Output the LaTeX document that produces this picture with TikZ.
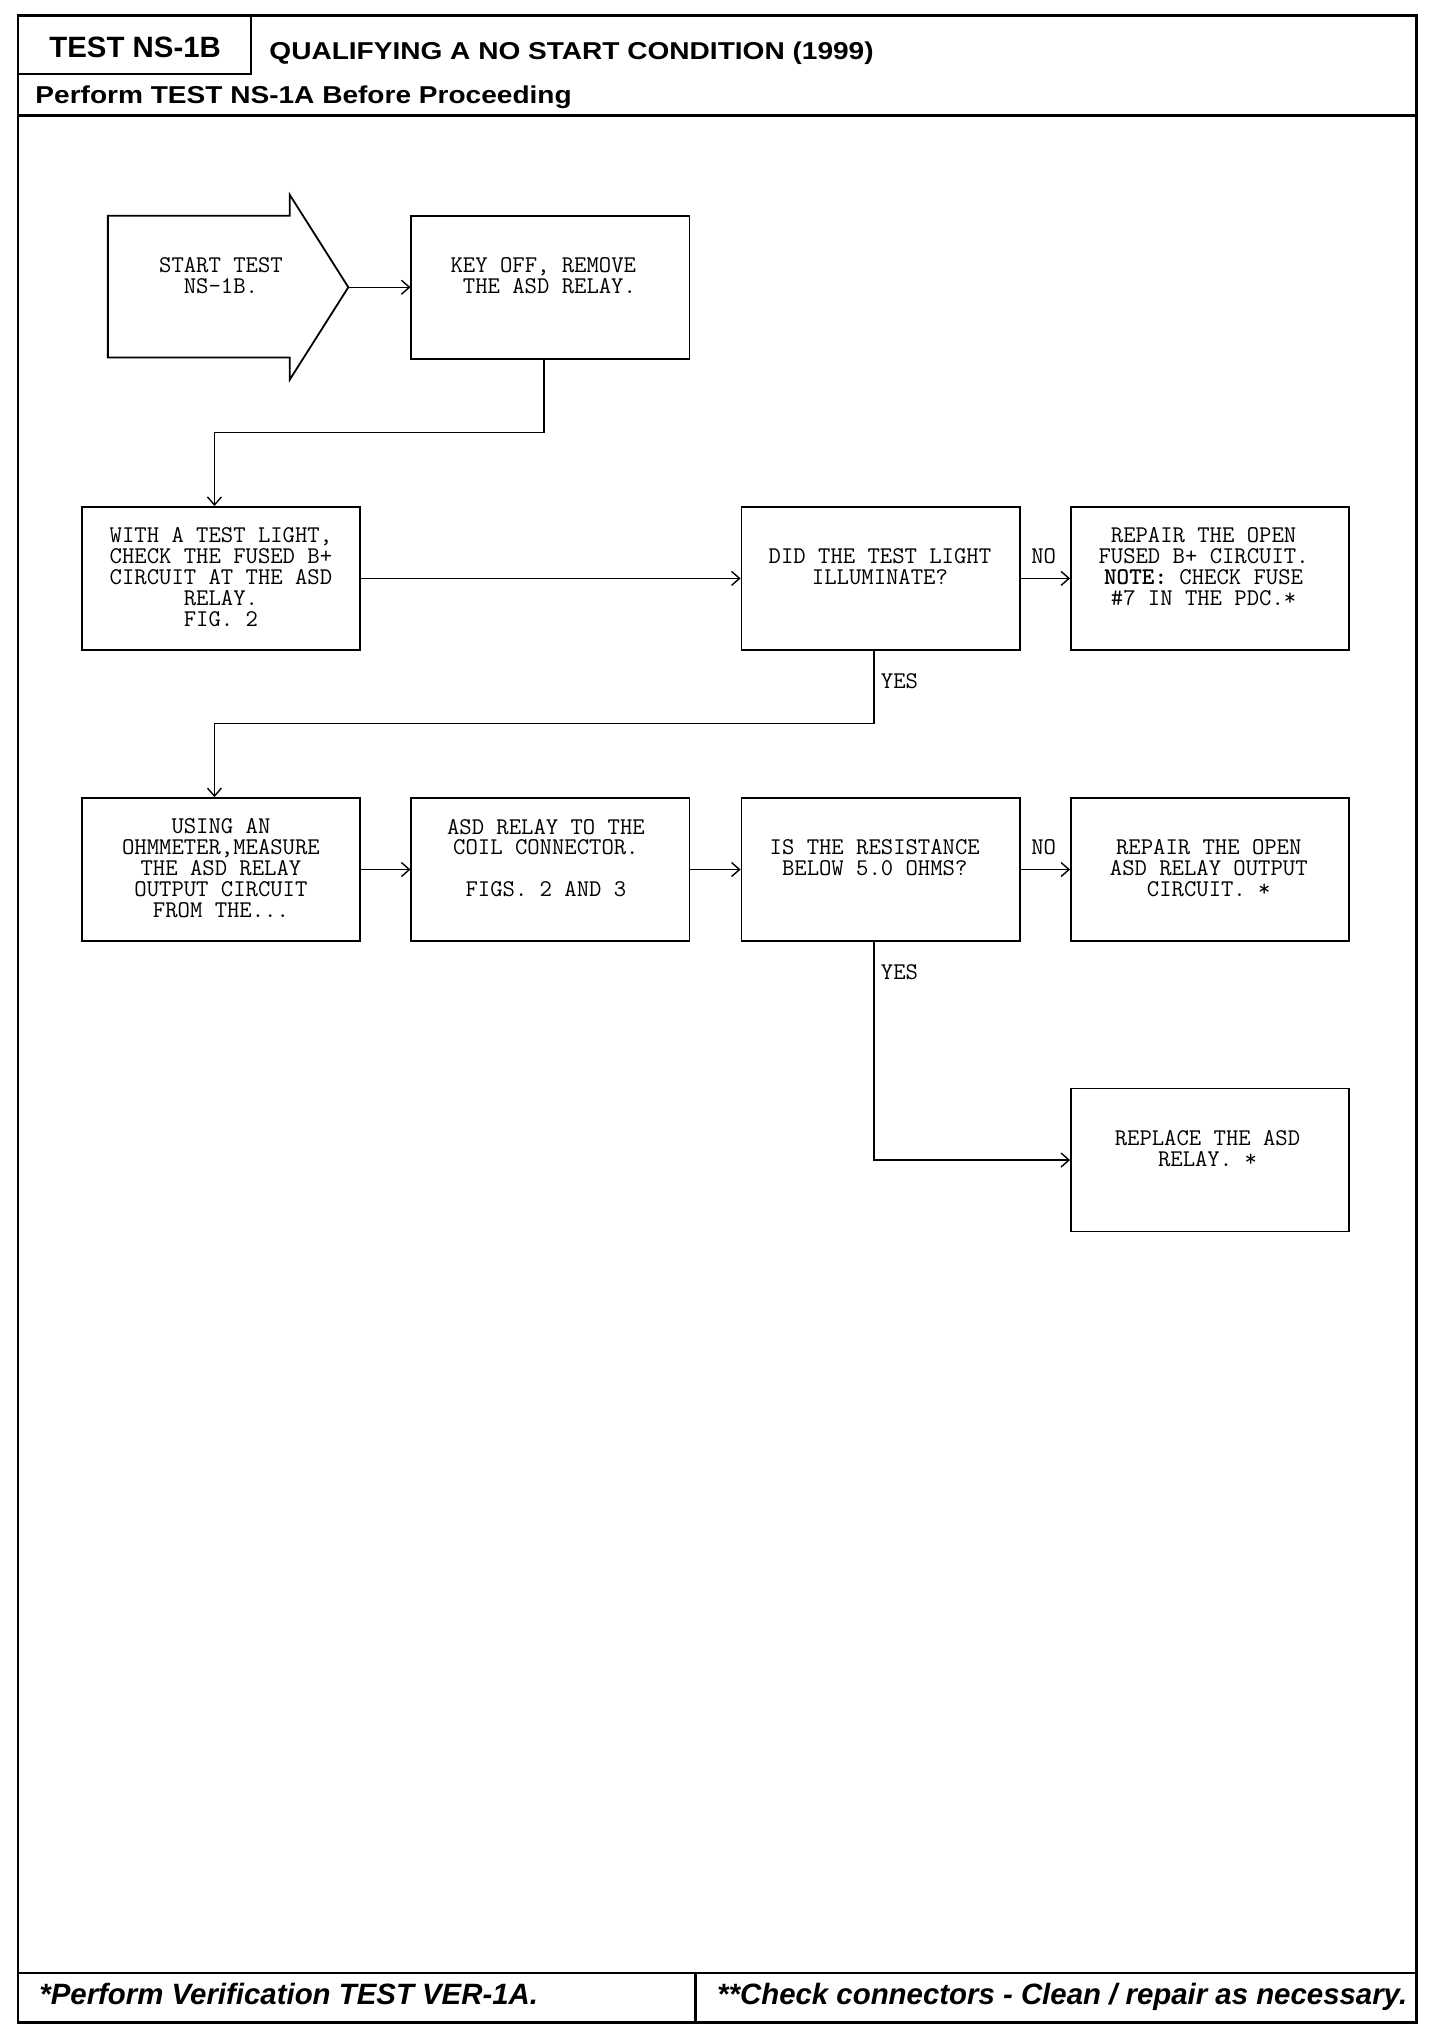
\documentclass[tikz,border=0pt]{standalone}
\usepackage{fontspec}
\newfontfamily\hdr{Liberation Sans}
\newfontfamily\hdrw{Liberation Sans}[FakeStretch=1.15]
\usetikzlibrary{arrows.meta,calc}
\begin{document}
\begin{tikzpicture}[x=0.65pt,y=-0.65pt,
  box/.style={draw, line width=0.9pt, minimum width=139.1pt, minimum height=71.5pt, inner sep=0pt},
  txt/.style={font={\fontsize{12pt}{10.4pt}\selectfont\ttfamily}, align=center, inner sep=0pt},
  lbl/.style={font={\fontsize{12pt}{10.4pt}\selectfont\ttfamily}, inner sep=0pt},
  arr/.style={line width=0.7pt, -{Straight Barb[length=4pt,width=7pt]}},
  frm/.style={line width=1.3pt},
  hdrA/.style={font={\hdr\bfseries\fontsize{14.7pt}{16pt}\selectfont}, inner sep=0pt},
  hdrB/.style={font={\hdrw\bfseries\fontsize{12.2pt}{15pt}\selectfont}, inner sep=0pt},
  hdrC/.style={font={\hdrw\bfseries\fontsize{12.2pt}{15pt}\selectfont}, inner sep=0pt},
  ftr/.style={font={\hdr\bfseries\itshape\fontsize{14.7pt}{16pt}\selectfont}, inner sep=0pt}
]
\useasboundingbox (0,0) rectangle (1120,1568);

% frame
\draw[frm] (14,12) rectangle (1090,1556);
\draw[frm] (193,12) -- (193,57) -- (14,57);
\draw[frm] (14,89) -- (1090,89);
\draw[frm] (14,1518) -- (1090,1518);
\draw[frm] (535,1518) -- (535,1556);

% header
\node[hdrA, anchor=base] (testid) at (104,44) {TEST NS-1B};
\node[hdrB, anchor=base west] (title) at (207,46) {QUALIFYING A NO START CONDITION (1999)};
\node[hdrC, anchor=base west] (pre) at (27,80) {Perform TEST NS-1A Before Proceeding};

% footer
\node[ftr, anchor=base west] (foot1) at (30,1542) {*Perform Verification TEST VER-1A.};
\node[ftr, anchor=base east] (foot2) at (1083,1542) {**Check connectors - Clean / repair as necessary.};

% start arrow
\draw[line width=0.9pt] (83,166) -- (223,166) -- (223,150) -- (268,221) -- (223,292) -- (223,275) -- (83,275) -- cycle;
\coordinate (starttip) at (268,221);
\node[txt] (startT) at (170,212) {START TEST\\NS-1B.};

% boxes
\node[box] (keyoff)  at (423.5,221) {};
\node[box] (tlight)  at (170,445) {};
\node[box] (did)     at (677.5,445) {};
\node[box] (repair1) at (931,445) {};
\node[box] (using)   at (170,669) {};
\node[box] (asd)     at (423.5,669) {};
\node[box] (isres)   at (677.5,669) {};
\node[box] (repair2) at (931,669) {};
\node[box] (replace) at (931,892.5) {};

% texts
\node[txt] (keyoffT) at (418,212) {KEY OFF, REMOVE\\~THE ASD RELAY.};
\node[txt] (tlightT) at (170,444) {WITH A TEST LIGHT,\\CHECK THE FUSED B+\\CIRCUIT AT THE ASD\\RELAY.\\FIG. 2};
\node[txt] (didT) at (677,436) {DID THE TEST LIGHT\\ILLUMINATE?};
\node[txt] (repair1T) at (926,436) {REPAIR THE OPEN\\FUSED B+ CIRCUIT.\\{\bfseries NOTE:} CHECK FUSE\\\#7 IN THE PDC.*};
\node[txt] (usingT) at (170,668) {USING AN\\OHMMETER,MEASURE\\THE ASD RELAY\\OUTPUT CIRCUIT\\FROM THE...};
\node[txt] (asdT) at (420,660) {ASD RELAY TO THE\\COIL CONNECTOR.\\[10.4pt]FIGS. 2 AND 3};
\node[txt] (isresT) at (673,660) {IS THE RESISTANCE\\BELOW 5.0 OHMS?};
\node[txt] (repair2T) at (930,668) {REPAIR THE OPEN\\ASD RELAY OUTPUT\\CIRCUIT. *};
\node[txt] (replaceT) at (929,884) {REPLACE THE ASD\\RELAY. *};

% labels
\node[lbl] (no1) at (803,428) {NO};
\node[lbl] (no2) at (803,652) {NO};
\node[lbl] (yes1) at (692,524) {YES};
\node[lbl] (yes2) at (692,748) {YES};

% connectors
\draw[arr] (starttip) -- (keyoff.west);
\draw[arr] ([xshift=-3.25pt]keyoff.south) -- ++(0,56) -| ([xshift=-3.25pt]tlight.north);
\draw[arr] (tlight.east) -- (did.west);
\draw[arr] (did.east) -- (repair1.west);
\draw[arr] ([xshift=-3.25pt]did.south) -- ++(0,56) -| ([xshift=-3.25pt]using.north);
\draw[arr] (using.east) -- (asd.west);
\draw[arr] (asd.east) -- (isres.west);
\draw[arr] (isres.east) -- (repair2.west);
\draw[arr] ([xshift=-3.25pt]isres.south) |- (replace.west);
\end{tikzpicture}
\end{document}
